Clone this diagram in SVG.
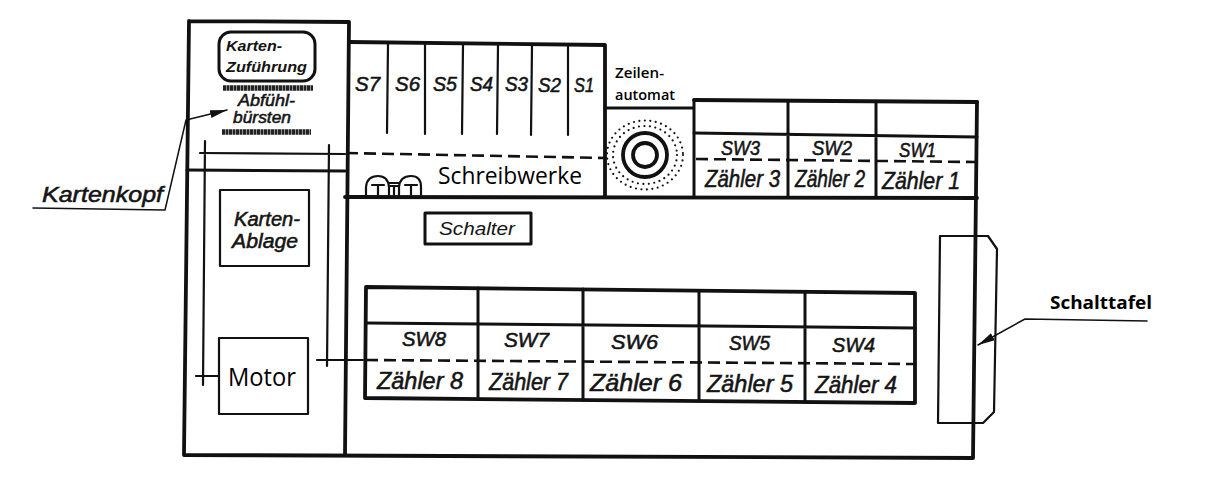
<svg xmlns="http://www.w3.org/2000/svg" width="1228" height="480" viewBox="0 0 1228 480">
<style>
.f{fill:none;stroke:#111;stroke-linejoin:round;stroke-linecap:round}
.w4{stroke-width:3.8}.w3{stroke-width:3}.w2{stroke-width:2.2}.w1{stroke-width:1.5}
.d{stroke-dasharray:12 6;stroke-linecap:butt;stroke-width:2.6}
.h{font-family:"Liberation Sans",Arial,sans-serif;font-style:italic;fill:#141414;stroke:#141414;stroke-width:.55}
.n{stroke:none}
.c{font-family:"Open Sans","Liberation Sans",sans-serif;fill:#000}
.hs{font-size:20px}.hz{font-size:23px}
</style>
<defs>
<marker id="ah" markerWidth="18" markerHeight="10" refX="17" refY="5" orient="auto" markerUnits="userSpaceOnUse"><path d="M0 1L17 5L0 9Z" fill="#111"/></marker>
</defs>
<rect width="1228" height="480" fill="#fff"/>

<g id="gehaeuse">
<path class="f w4" d="M189 21L349 22L345 455M189 21L184 455L973 458L977 102"/>
<path class="f w3" d="M187 170L345 171"/>
<path class="f w4" d="M345 197L977 198"/>
</g>

<g id="schreibwerke">
<path class="f w4" d="M349 42L605 45L605 197"/>
<path class="f w2" d="M388 44L387 133M425 45L425 134M463 45L462 134M498 45L497 134M532 45L531 135M568 46L568 135"/>
<path class="f d" d="M346 153L605 158"/>
<g class="h hs"><text x="355" y="91" textLength="25" lengthAdjust="spacingAndGlyphs">S7</text><text x="395" y="91" textLength="25" lengthAdjust="spacingAndGlyphs">S6</text><text x="433" y="91" textLength="24" lengthAdjust="spacingAndGlyphs">S5</text><text x="470" y="91" textLength="23" lengthAdjust="spacingAndGlyphs">S4</text><text x="505" y="91" textLength="23" lengthAdjust="spacingAndGlyphs">S3</text><text x="538" y="92" textLength="23" lengthAdjust="spacingAndGlyphs">S2</text><text x="574" y="92" textLength="20" lengthAdjust="spacingAndGlyphs">S1</text></g>
<path class="f w2" d="M366 195V187Q367 176 378 176Q388 176 389 187V195M399 195V187Q400 176 411 176Q421 176 421 187V195M389 183H399M372 185H384M378 185V195M405 185H417M411 185V195M390 186H398M394 186V195"/>
<text class="c" x="438" y="184" font-size="24" textLength="144" lengthAdjust="spacingAndGlyphs">Schreibwerke</text>
</g>

<g id="zeilenautomat">
<path class="f w3" d="M605 108L694 108M694 100V197"/>
<circle class="f w4" cx="645" cy="155" r="22"/>
<circle class="f w4" cx="645" cy="155" r="12"/>
<ellipse class="f w2" cx="645" cy="155" rx="38" ry="34.5" stroke-dasharray="0 5.5"/>
<ellipse class="f w2" cx="645" cy="155" rx="32" ry="29" stroke-dasharray="0 5.5"/>
<text class="c" x="615" y="78" font-size="15" font-weight="600" textLength="49" lengthAdjust="spacingAndGlyphs">Zeilen-</text>
<text class="c" x="615" y="100" font-size="15" font-weight="600" textLength="60" lengthAdjust="spacingAndGlyphs">automat</text>
</g>

<g id="zaehler-1-3">
<path class="f w4" d="M694 100L977 102"/>
<path class="f w3" d="M694 133L977 137M788 102V197M876 103V197"/>
<path class="f d" d="M696 159L975 162"/>
<g class="h hs"><text x="721" y="155" textLength="39" lengthAdjust="spacingAndGlyphs">SW3</text><text x="812" y="155" textLength="40" lengthAdjust="spacingAndGlyphs">SW2</text><text x="899" y="157" textLength="37" lengthAdjust="spacingAndGlyphs">SW1</text></g>
<g class="h hz"><text x="705" y="187" textLength="75" lengthAdjust="spacingAndGlyphs">Zähler 3</text><text x="795" y="187" textLength="70" lengthAdjust="spacingAndGlyphs">Zähler 2</text><text x="882" y="189" textLength="78" lengthAdjust="spacingAndGlyphs">Zähler 1</text></g>
</g>

<g id="kartenzufuehrung">
<rect class="f w3" x="219" y="32" width="96" height="49" rx="12"/>
<text class="h n" x="226" y="51" font-size="15" font-weight="700" fill="#000" textLength="56" lengthAdjust="spacingAndGlyphs">Karten-</text>
<text class="h n" x="226" y="72" font-size="15" font-weight="700" fill="#000" textLength="81" lengthAdjust="spacingAndGlyphs">Zuführung</text>
</g>

<g id="abfuehlbuersten">
<path stroke="#222" stroke-width="5.5" stroke-dasharray="3 .5" fill="none" d="M223 88H313M222 132H311"/>
<text class="h" x="238" y="106" font-size="17" textLength="57" lengthAdjust="spacingAndGlyphs">Abfühl-</text>
<text class="h" x="233" y="123" font-size="17" textLength="58" lengthAdjust="spacingAndGlyphs">bürsten</text>
</g>

<g id="kartenablage">
<rect class="f w2" x="220" y="190" width="89" height="76"/>
<text class="h" x="234" y="226" font-size="20" textLength="66" lengthAdjust="spacingAndGlyphs">Karten-</text>
<text class="h" x="232" y="248" font-size="20" textLength="66" lengthAdjust="spacingAndGlyphs">Ablage</text>
</g>

<g id="motor">
<rect class="f w2" x="219" y="338" width="89" height="76"/>
<text class="c" x="228" y="386" font-size="25" textLength="68" lengthAdjust="spacingAndGlyphs">Motor</text>
</g>

<g id="schalter">
<rect class="f w3" x="425" y="213" width="106" height="31"/>
<text class="h n" x="439" y="235" font-size="19" fill="#000" textLength="76" lengthAdjust="spacingAndGlyphs">Schalter</text>
</g>

<g id="zaehler-4-8">
<path class="f w4" d="M366 287L915 293L915 403L365 398Z"/>
<path class="f w3" d="M366 323L915 328M478 288V399M583 289V400M699 291V401M805 292V402"/>
<path class="f d" d="M366 360L915 364"/>
<g class="h hs"><text x="402" y="346" textLength="44" lengthAdjust="spacingAndGlyphs">SW8</text><text x="504" y="347" textLength="45" lengthAdjust="spacingAndGlyphs">SW7</text><text x="611" y="349" textLength="47" lengthAdjust="spacingAndGlyphs">SW6</text><text x="729" y="350" textLength="41" lengthAdjust="spacingAndGlyphs">SW5</text><text x="832" y="352" textLength="43" lengthAdjust="spacingAndGlyphs">SW4</text></g>
<g class="h hz"><text x="377" y="389" textLength="86" lengthAdjust="spacingAndGlyphs">Zähler 8</text><text x="489" y="390" textLength="79" lengthAdjust="spacingAndGlyphs">Zähler 7</text><text x="590" y="391" textLength="92" lengthAdjust="spacingAndGlyphs">Zähler 6</text><text x="707" y="392" textLength="86" lengthAdjust="spacingAndGlyphs">Zähler 5</text><text x="815" y="393" textLength="82" lengthAdjust="spacingAndGlyphs">Zähler 4</text></g>
</g>

<g id="schalttafel">
<path class="f w2" d="M940 236H988L997 249L994 412L983 423H938Z"/>
<text x="1050" y="309" font-family="'Open Sans','Liberation Sans',sans-serif" font-size="18" font-weight="700" fill="#000" textLength="102" lengthAdjust="spacingAndGlyphs">Schalttafel</text>
</g>

<g id="kartenkopf">
<text class="h" x="42" y="202" font-size="22" textLength="121" lengthAdjust="spacingAndGlyphs">Kartenkopf</text>
</g>

<g id="connectors">
<path class="f w1" d="M33 208L165 210L186 120L227 110" marker-end="url(#ah)"/>
<path class="f w1" d="M1147 321L1025 319L978 345" marker-end="url(#ah)"/>
<path class="f w2" d="M205 141L203 385M196 376H219M329 145L327 366M317 360H363M200 153L345 154"/>
</g>
</svg>
